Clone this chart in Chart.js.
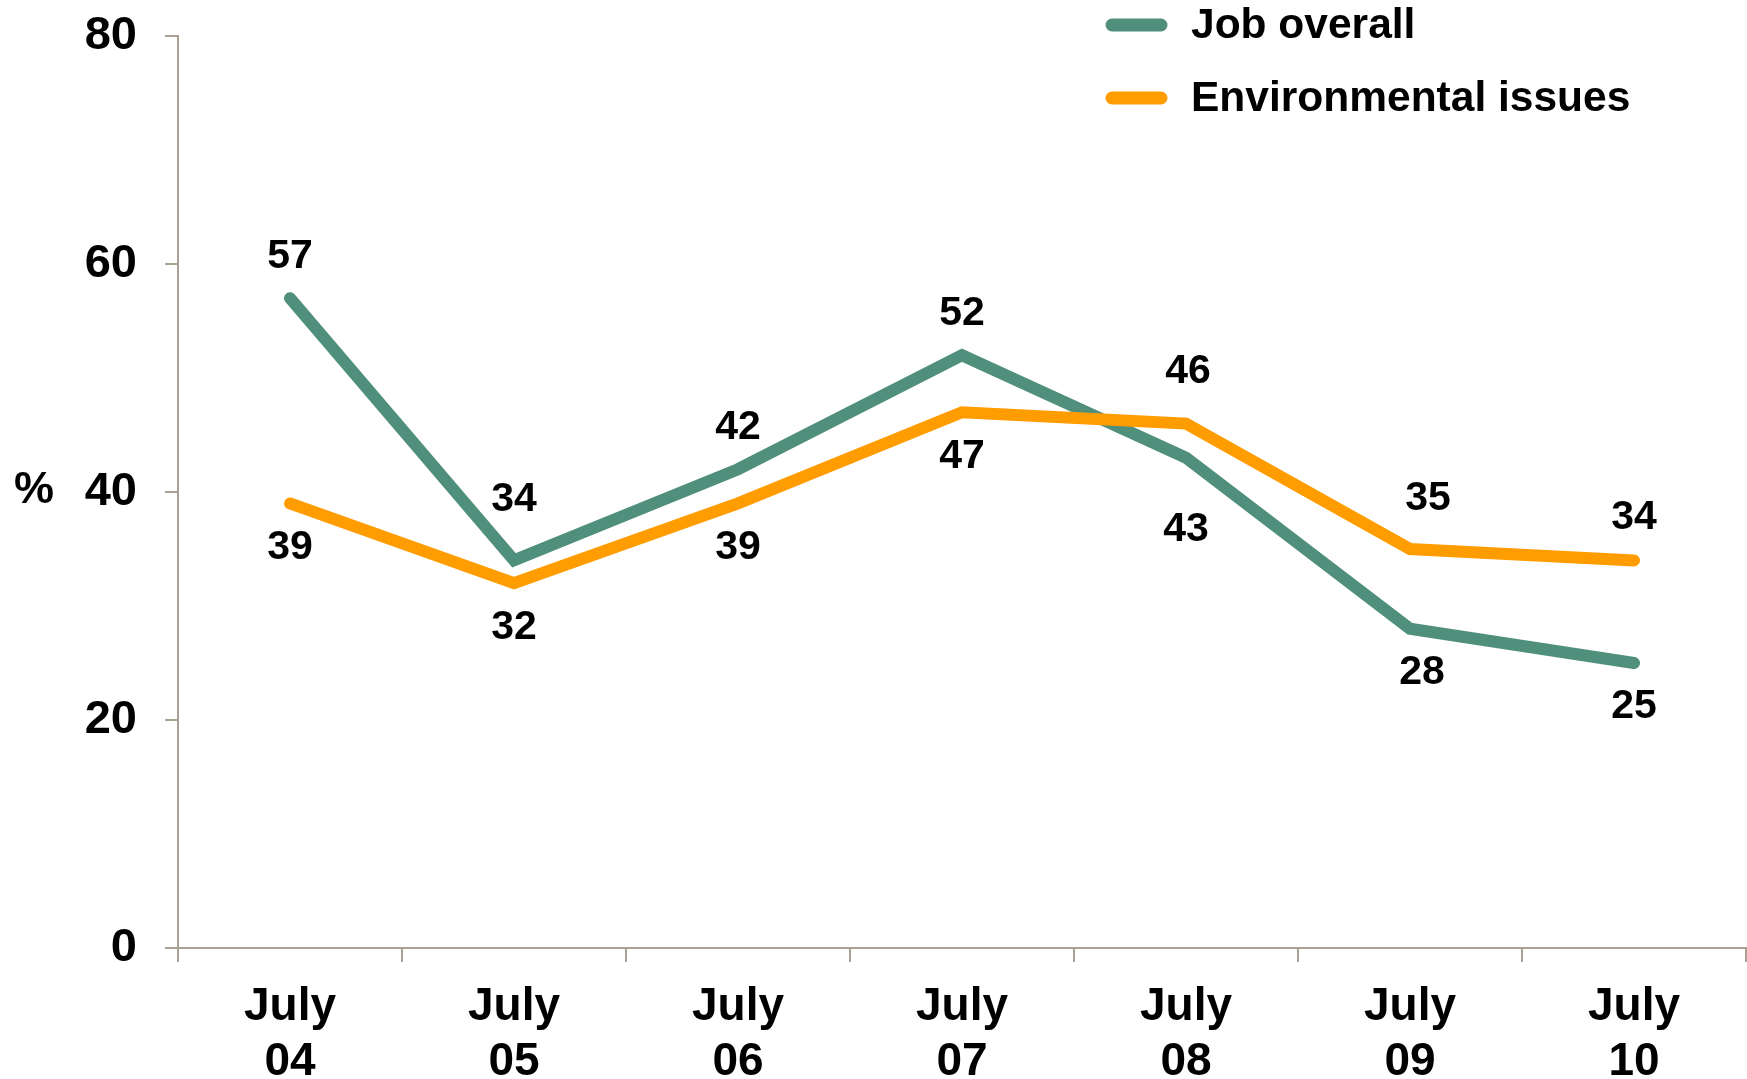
<!DOCTYPE html>
<html><head><meta charset="utf-8">
<script src="https://cdn.jsdelivr.net/npm/chart.js@4/dist/chart.umd.min.js"></script>
<style>html,body{margin:0;padding:0;background:#fff;}#wrap{width:1747px;height:1079px;}</style>
</head><body><div id="wrap"><canvas id="c" width="1747" height="1079"></canvas></div>
<script>
const categories = [["July","04"],["July","05"],["July","06"],["July","07"],["July","08"],["July","09"],["July","10"]];
const jobOverall = [57, 34, 42, 52, 43, 28, 25];
const environmental = [39, 32, 39, 47, 46, 35, 34];
const yTicks = [0, 20, 40, 60, 80];
const seriesNames = ["Job overall", "Environmental issues"];
// label placement (pixel offsets from the point, negative = above / left)
const jobLabelOffset = [-42, -61, -42, -42, 72, 44, 44];
const envLabelOffset = [44, 44, 44, 44, -52, -50, -43];
const jobLabelShiftX = [0, 0, 0, 0, 0, 12, 0];
const envLabelShiftX = [0, 0, 0, 0, 2, 18, 0];
const colors = ["#4F8F7B", "#FF9C00"];
const axisColor = "#A9A292";
const FONT = "'Liberation Sans', Arial, sans-serif";

const labelPlugin = {
  id: 'valueLabels',
  afterDatasetsDraw(chart) {
    const ctx = chart.ctx;
    const offArr = [jobLabelOffset, envLabelOffset];
    const shiftArr = [jobLabelShiftX, envLabelShiftX];
    ctx.save();
    ctx.font = "bold 41px " + FONT;
    ctx.fillStyle = "#000";
    ctx.textAlign = "center";
    ctx.textBaseline = "middle";
    chart.data.datasets.forEach((ds, di) => {
      const meta = chart.getDatasetMeta(di);
      meta.data.forEach((pt, i) => {
        ctx.fillText(String(ds.data[i]), pt.x + shiftArr[di][i], pt.y + offArr[di][i]);
      });
    });
    ctx.restore();
  }
};

const legendPlugin = {
  id: 'customLegend',
  afterDraw(chart) {
    const ctx = chart.ctx;
    ctx.save();
    ctx.font = "bold 42.5px " + FONT;
    ctx.textBaseline = "middle";
    ctx.textAlign = "left";
    const ys = [25, 98];
    seriesNames.forEach((n, i) => {
      ctx.strokeStyle = colors[i];
      ctx.lineWidth = 13;
      ctx.lineCap = "round";
      ctx.beginPath();
      ctx.moveTo(1112, ys[i]);
      ctx.lineTo(1161, ys[i]);
      ctx.stroke();
      ctx.fillStyle = "#000";
      ctx.fillText(n, 1191, ys[i] + 1);
    });
    ctx.restore();
  }
};

new Chart(document.getElementById('c'), {
  type: 'line',
  data: {
    labels: categories,
    datasets: [
      { label: seriesNames[0], data: jobOverall, borderColor: colors[0], backgroundColor: colors[0], borderWidth: 12, pointRadius: 0, tension: 0, borderCapStyle: 'round', borderJoinStyle: 'miter', order: 1 },
      { label: seriesNames[1], data: environmental, borderColor: colors[1], backgroundColor: colors[1], borderWidth: 12, pointRadius: 0, tension: 0, borderCapStyle: 'round', borderJoinStyle: 'miter', order: 0 }
    ]
  },
  options: {
    responsive: false,
    animation: false,
    devicePixelRatio: 1,
    layout: { padding: { top: 36, right: 1, left: 0, bottom: 0 } },
    plugins: { legend: { display: false }, tooltip: { enabled: false } },
    scales: {
      x: {
        offset: true,
        grid: { offset: true, drawOnChartArea: false, drawTicks: true, tickLength: 14, color: axisColor, lineWidth: 2 },
        border: { color: axisColor, width: 2 },
        ticks: { color: "#000", font: { family: FONT, weight: 'bold', size: 46, lineHeight: 1.2 }, padding: 18, maxRotation: 0, autoSkip: false },
        afterFit(s) { s.height = 131; s.paddingLeft = 0; s.paddingRight = 0; }
      },
      y: {
        min: 0, max: 80,
        afterBuildTicks(s) { s.ticks = yTicks.map(v => ({ value: v })); },
        grid: { drawOnChartArea: false, drawTicks: true, tickLength: 13, color: axisColor, lineWidth: 2 },
        border: { color: axisColor, width: 2 },
        ticks: { color: "#000", font: { family: FONT, weight: 'bold', size: 47 }, padding: 28 },
        title: { display: false },
        afterFit(s) { s.width = 178; s.paddingTop = 0; s.paddingBottom = 0; }
      }
    }
  },
  plugins: [labelPlugin, legendPlugin, {
    id: 'pct',
    afterDraw(chart) {
      const ctx = chart.ctx;
      ctx.save();
      ctx.font = "bold 45px " + FONT;
      ctx.fillStyle = "#000";
      ctx.textAlign = "left";
      ctx.textBaseline = "middle";
      ctx.fillText("%", 14, 491);
      ctx.restore();
    }
  }]
});
</script></body></html>
